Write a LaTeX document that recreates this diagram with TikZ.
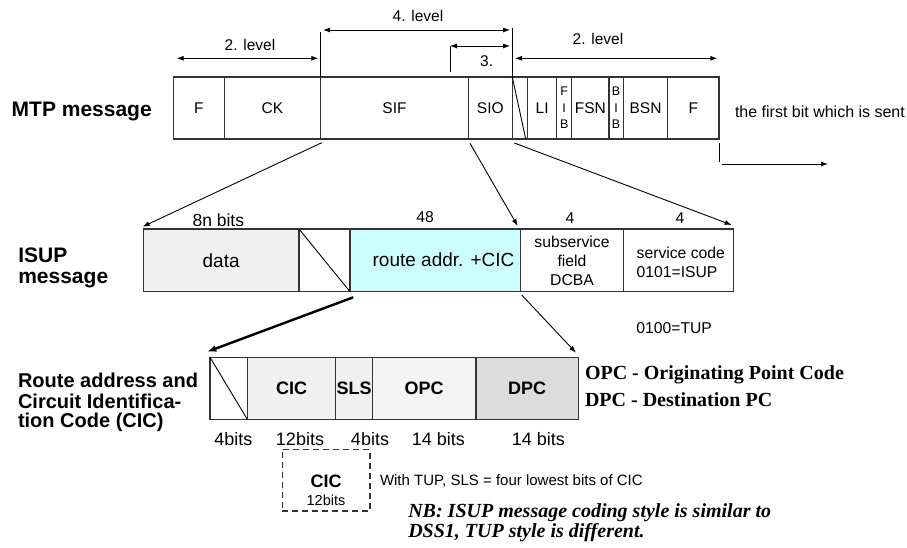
\documentclass[tikz,border=0pt]{standalone}
\usepackage{fontspec}
\setmainfont{Liberation Sans}
\newfontfamily\timesfont{Liberation Serif}
\usetikzlibrary{arrows.meta}
\definecolor{edge}{HTML}{333333}
\definecolor{grayfill}{HTML}{F0F0F0}
\definecolor{cyanfill}{HTML}{CCFFFF}
\definecolor{dpcfill}{HTML}{DCDCDC}
\begin{document}
\begin{tikzpicture}[x=1pt,y=-1pt,
  every node/.style={inner sep=0pt, outer sep=0pt},
  cell/.style={draw=edge, line width=1.3pt, anchor=north west, align=center},
  thinline/.style={draw=black, line width=0.9pt},
  conn/.style={line width=0.9pt, -{Latex[length=7pt,width=5pt]}},
  thickconn/.style={line width=2.4pt, -{Latex[length=9pt,width=7pt]}},
  dimarrow/.style={line width=0.9pt, {Latex[length=7pt,width=5pt]}-{Latex[length=7pt,width=5pt]}},
  lvl/.style={font=\fontsize{15.5}{18}\selectfont},
  mtpf/.style={font=\fontsize{15.5}{18}\selectfont},
  tinyf/.style={font=\fontsize{12.5}{16.5}\selectfont},
  headf/.style={font=\fontsize{21}{24}\selectfont\bfseries, anchor=west},
  rahead/.style={font=\fontsize{20}{22}\selectfont\bfseries, anchor=west},
  isupf/.style={font=\fontsize{19}{22}\selectfont},
  smallf/.style={font=\fontsize{15.7}{19}\selectfont},
  bitsf/.style={font=\fontsize{18}{21}\selectfont},
  boldf/.style={font=\fontsize{18}{21}\selectfont\bfseries},
  serifb/.style={font=\fontsize{20}{24}\timesfont\bfseries, anchor=west},
  serifbi/.style={font=\fontsize{20}{24}\timesfont\bfseries\itshape, anchor=west}
]
\useasboundingbox[fill=white] (0,0) rectangle (907,548);

% ---------- MTP message row ----------
\node[headf] (mtplbl) at (11.7,111.7) {MTP message};
\node[cell, mtpf, minimum width=51pt, minimum height=62pt] (f1) at (173.3,77) {F};
\node[cell, mtpf, minimum width=96.4pt, minimum height=62pt] (ck) at (224.3,77) {CK};
\node[cell, mtpf, minimum width=147.6pt, minimum height=62pt] (sif) at (320.7,77) {SIF};
\node[cell, mtpf, minimum width=44pt, minimum height=62pt] (sio) at (468.3,77) {SIO};
\node[cell, minimum width=15.4pt, minimum height=62pt] (mslash) at (512.3,77) {};
\node[cell, mtpf, minimum width=29pt, minimum height=62pt] (li) at (527.7,77) {LI};
\node[cell, tinyf, minimum width=15pt, minimum height=62pt] (fib) at (556.7,77) {F\\I\\B};
\node[cell, mtpf, minimum width=37.3pt, minimum height=62pt] (fsn) at (571.7,77) {FSN};
\node[cell, tinyf, minimum width=14.3pt, minimum height=62pt] (bib) at (609,77) {B\\I\\B};
\node[cell, mtpf, minimum width=44.4pt, minimum height=62pt] (bsn) at (623.3,77) {BSN};
\node[cell, mtpf, minimum width=51.3pt, minimum height=62pt] (f2) at (667.7,77) {F};
\draw[thinline] (mslash.north west) -- ([xshift=-2pt]mslash.south east);

% level arrows
\coordinate (l2a) at (176.7,58.3);
\coordinate (l2b) at (318.3,58.3);
\draw[dimarrow] (l2a) -- (l2b);
\node[lvl] (l2lbl) at (250,45) {2. level};
\coordinate (sifup) at (320.7,32);
\draw[thinline] (sif.north west) -- (sifup);
\coordinate (l4a) at (323,30);
\coordinate (l4b) at (510,30);
\draw[dimarrow] (l4a) -- (l4b);
\node[lvl] (l4lbl) at (418,15.7) {4. level};
\coordinate (sioup) at (512.3,28);
\draw[thinline] (sio.north east) -- (sioup);
\coordinate (l3a) at (450,46);
\coordinate (l3b) at (510,46);
\coordinate (l3foot) at (450,71.7);
\draw[dimarrow] (l3a) -- (l3b);
\draw[thinline] (l3a) -- (l3foot);
\node[lvl] (l3lbl) at (486.7,61) {3.};
\coordinate (l2c) at (515,58.3);
\coordinate (l2d) at (717.3,58.3);
\draw[dimarrow] (l2c) -- (l2d);
\node[lvl] (l2rlbl) at (598,39) {2. level};

% first bit
\coordinate (fb1) at (719,143.3);
\coordinate (fb2) at (719,161.7);
\coordinate (fb3) at (721.7,164);
\coordinate (fb4) at (828,164);
\draw[thinline] (fb1) -- (fb2);
\draw[conn] (fb3) -- (fb4);
\node[font=\fontsize{16}{19}\selectfont, anchor=west] (firstbit) at (735,112) {the first bit which is sent};

% ---------- ISUP message row ----------
\node[headf] (isup1) at (18.3,255) {ISUP};
\node[headf] (isup2) at (18.3,280) {message};
\node[cell, isupf, fill=grayfill, minimum width=155.7pt, minimum height=62.7pt] (data) at (143.3,229) {data};
\node[cell, minimum width=51pt, minimum height=62.7pt] (islash) at (299,229) {};
\node[cell, fill=cyanfill, minimum width=170.5pt, minimum height=62.7pt] (route) at (350,229) {};
\node[cell, minimum width=102.8pt, minimum height=62.7pt] (subsrv) at (520.5,229) {};
\node[cell, minimum width=110pt, minimum height=62.7pt] (svc) at (623.3,229) {};
\draw[thinline] (islash.north west) -- (islash.south east);
\node[isupf] (routelbl) at (443.5,260) {route addr. +CIC};
\node[smallf] (sub1) at (572,241.7) {subservice};
\node[smallf] (sub2) at (572,260.7) {field};
\node[smallf] (sub3) at (572,280) {DCBA};
\node[smallf, anchor=west] (svc1) at (636.7,252.7) {service code};
\node[smallf, anchor=west] (svc2) at (636.7,271.7) {0101=ISUP};
\node[font=\fontsize{17.5}{21}\selectfont] (bits8n) at (218.3,220) {8n bits};
\node[smallf] (bits48) at (425,217.3) {48};
\node[smallf] (bits4a) at (570,218.3) {4};
\node[smallf] (bits4b) at (680,218.3) {4};
\node[smallf] (tup) at (674.2,328.3) {0100=TUP};

% MTP -> ISUP connectors
\draw[conn] ([xshift=1pt,yshift=-3.7pt]sif.south west) -- ([xshift=-0.6pt,yshift=2.3pt]data.north west);
\draw[conn] ([xshift=1.7pt,yshift=-4.3pt]sio.south west) -- ([xshift=-2.8pt,yshift=3pt]route.north east);
\draw[conn] ([xshift=2pt,yshift=-4pt]mslash.south west) -- ([xshift=-1.6pt,yshift=4pt]svc.north east);

% ---------- Route address row ----------
\node[rahead] (ra1) at (18,380.5) {Route address and};
\node[rahead] (ra2) at (18,401.5) {Circuit Identifica-};
\node[rahead] (ra3) at (18,422.5) {tion Code (CIC)};
\node[cell, minimum width=37.3pt, minimum height=62pt] (rslash) at (210,357.3) {};
\node[cell, boldf, fill=grayfill, minimum width=88.4pt, minimum height=62pt] (cic) at (247.3,357.3) {CIC};
\node[cell, boldf, fill=grayfill, minimum width=36.6pt, minimum height=62pt] (sls) at (335.7,357.3) {SLS};
\node[cell, boldf, fill=grayfill!70!white, minimum width=103.7pt, minimum height=62pt] (opc) at (372.3,357.3) {OPC};
\node[cell, boldf, fill=dpcfill, minimum width=102.3pt, minimum height=62pt] (dpc) at (476,357.3) {DPC};
\draw[thinline] (rslash.north west) -- (rslash.south east);

\node[bitsf] (b1) at (233.3,439.3) {4bits};
\node[bitsf] (b2) at (300,439.3) {12bits};
\node[bitsf] (b3) at (370,439.3) {4bits};
\node[bitsf] (b4) at (438.3,439.3) {14 bits};
\node[bitsf] (b5) at (538.3,439.3) {14 bits};

% ISUP -> Route connectors
\draw[thickconn] ([xshift=3.3pt,yshift=-5.6pt]route.south west) -- ([xshift=-2.7pt,yshift=5.6pt]rslash.north west);
\draw[conn] ([xshift=1.2pt,yshift=-3.3pt]route.south east) -- ([xshift=-2.3pt,yshift=4.6pt]dpc.north east);

\node[serifb] (opcdef) at (585,375) {OPC - Originating Point Code};
\node[serifb] (dpcdef) at (585,399.3) {DPC - Destination PC};

% dashed CIC box
\node[draw=edge, line width=1.1pt, dash pattern=on 6pt off 4pt, anchor=north west, minimum width=87.7pt, minimum height=61.7pt] (cicbox) at (282.3,449.3) {};
\node[boldf] (cicb1) at (326,481) {CIC};
\node[font=\fontsize{14.5}{17}\selectfont] (cicb2) at (326,500) {12bits};
\node[font=\fontsize{15}{18}\selectfont, anchor=west] (tupnote) at (380,481) {With TUP, SLS = four lowest bits of CIC};

\node[serifbi] (nb1) at (408.3,512.7) {NB: ISUP message coding style is similar to};
\node[serifbi] (nb2) at (408.3,532.7) {DSS1, TUP style is different.};
\end{tikzpicture}
\end{document}
